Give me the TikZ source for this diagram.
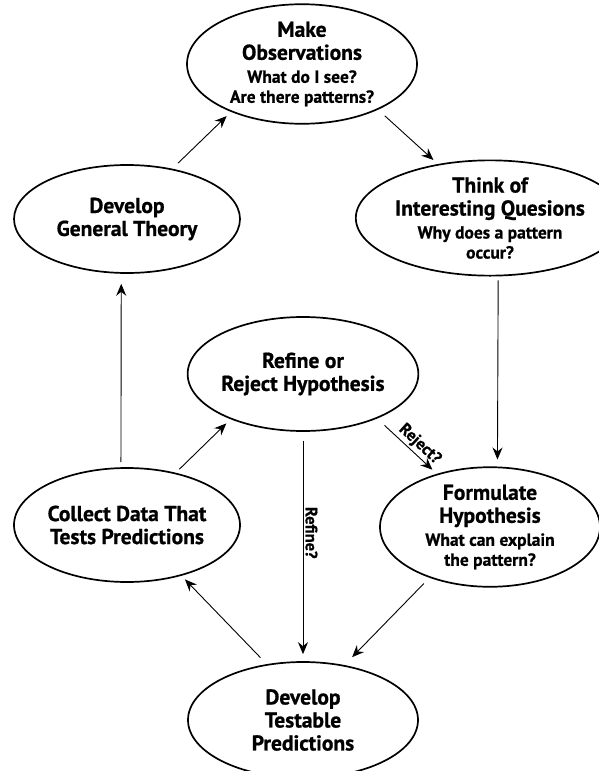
\documentclass[tikz,border=0pt]{standalone}
\usepackage{fontspec}
\setmainfont{PT Sans}[BoldFeatures={FakeBold=0.8}]
\usetikzlibrary{arrows.meta,shapes.geometric}
\newcommand\mytitle[1]{{\fontsize{21.5}{23}\selectfont #1}}
\begin{document}
\begin{tikzpicture}[x=1pt,y=-1pt,
  bub/.style={ellipse, draw, line width=1.7pt, inner sep=0pt, align=center,
    font=\bfseries\fontsize{17.5}{20}\selectfont},
  arr/.style={line width=0.9pt, -{Stealth[length=12pt,width=10pt,inset=4pt]}},
  lab/.style={font=\bfseries\fontsize{16.5}{18}\selectfont, inner sep=2pt}]
\useasboundingbox (0,0) rectangle (598,771);
\fill[white] (0,0) rectangle (598,771);

\node[bub, minimum width=230pt, minimum height=118pt] (obs) at (302,64)
  {\mytitle{Make}\\[3pt]\mytitle{Observations}\\[3pt]What do I see?\\Are there patterns?};
\node[bub, minimum width=226pt, minimum height=108pt] (dgt) at (127,219)
  {\mytitle{Develop}\\[3pt]\mytitle{General Theory}};
\node[bub, minimum width=220pt, minimum height=112pt] (think) at (490,218)
  {\mytitle{Think of}\\[3pt]\mytitle{Interesting Quesions}\\[3pt]Why does a pattern\\occur?};
\node[bub, minimum width=230pt, minimum height=114pt] (refine) at (303,374)
  {\mytitle{Refine or}\\[3pt]\mytitle{Reject Hypothesis}};
\node[bub, minimum width=226pt, minimum height=114pt] (collect) at (127,525)
  {\mytitle{Collect Data That}\\[3pt]\mytitle{Tests Predictions}};
\node[bub, minimum width=220pt, minimum height=114pt] (form) at (490,527)
  {\mytitle{Formulate}\\[3pt]\mytitle{Hypothesis}\\[3pt]What can explain\\the pattern?};
\node[bub, minimum width=230pt, minimum height=116pt] (dtp) at (303,720)
  {\mytitle{Develop}\\[3pt]\mytitle{Testable}\\[3pt]\mytitle{Predictions}};

\draw[arr, shorten <=8pt, shorten >=6pt] (dgt.48) -- (obs.214);
\draw[arr, shorten <=9pt, shorten >=6pt] (obs.-31) -- (think.134);
\draw[arr, shorten <=4pt, shorten >=7pt] (think.-82) -- (form.83);
\draw[arr, shorten <=8pt, shorten >=11pt] (form.220) -- (dtp.53);
\draw[arr, shorten <=9pt, shorten >=7pt] (refine.south) --
  node[lab, rotate=-90, anchor=south, pos=0.44] (lrefine) {Refine?} (dtp.north);
\draw[arr, shorten <=10pt, shorten >=6pt] (refine.-31) --
  node[lab, sloped, anchor=south, pos=0.6] (lreject) {Reject?} (form.135);
\draw[arr, shorten <=9pt, shorten >=5pt] (dtp.123) -- (collect.-43);
\draw[arr, shorten <=5pt, shorten >=6pt] (collect.47) -- (refine.212);
\draw[arr, shorten <=5pt, shorten >=10pt] (collect.96) -- (dgt.-96);
\end{tikzpicture}
\end{document}
